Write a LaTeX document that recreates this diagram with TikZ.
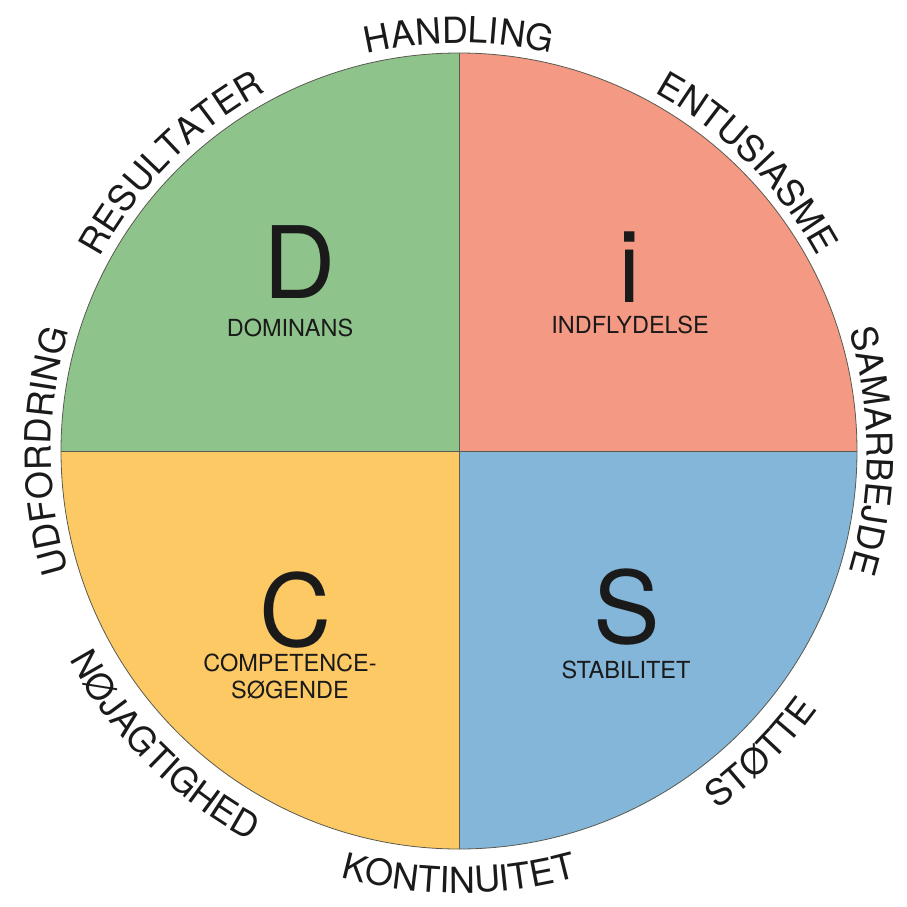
\documentclass[tikz,border=0pt]{standalone}
\usepackage{fontspec}
\setmainfont{TeX Gyre Heros}
\usetikzlibrary{decorations.text}

\definecolor{verdeD}{HTML}{8EC48B}
\definecolor{rossoI}{HTML}{F49983}
\definecolor{gialloC}{HTML}{FCC965}
\definecolor{bluS}{HTML}{83B6D8}
\definecolor{bordo}{HTML}{5A5A50}
\definecolor{testo}{HTML}{1A1A1A}

\newcommand{\lettera}{\fontsize{100}{100}\selectfont}
\newcommand{\sottotitolo}{\fontsize{23.5}{27}\selectfont}
\newcommand{\etichetta}{\fontsize{36}{40}\selectfont}

\begin{document}
\begin{tikzpicture}[x=1pt,y=1pt,
    lettera/.style={anchor=base, inner sep=0pt, text=testo, font=\lettera},
    sotto/.style={anchor=base, inner sep=0pt, text=testo, font=\sottotitolo, align=center},
    divisore/.style={bordo, line width=0.8pt}]

    \useasboundingbox (-459,-455) rectangle (448,451);

    % Quadranti
    \foreach \a/\col in {90/verdeD, 0/rossoI, 270/bluS, 180/gialloC} {
        \fill[\col] (0,0) -- (\a:398) arc[start angle=\a, delta angle=90, radius=398] -- cycle;
    }

    % Bordo e divisori
    \coordinate (centro) at (0,0);
    \coordinate (nord) at (90:398);
    \coordinate (sud) at (270:398);
    \coordinate (est) at (0:398);
    \coordinate (ovest) at (180:398);
    \draw[divisore] (ovest) -- (est);
    \draw[divisore] (sud) -- (nord);
    \draw[divisore] (centro) circle[radius=398];

    % Lettere DiSC
    \node[lettera] (D) at (-159,153) {D};
    \node[lettera] (i) at (171,149) {i};
    \node[lettera] (C) at (-163,-195) {C};
    \node[lettera] (S) at (168,-192) {S};

    % Sottotitoli
    \node[sotto] (dominans) at (-169,115) {DOMINANS};
    \node[sotto] (indflydelse) at (171,118) {INDFLYDELSE};
    \node[sotto, anchor=north] (competence) at (-169,-203) {COMPETENCE-\\SØGENDE};
    \node[sotto] (stabilitet) at (167,-227) {STABILITET};

    % Etichette esterne, in alto (senso orario)
    \foreach \ang/\parola in {90/HANDLING, 45/ENTUSIASME, 0/SAMARBEJDE, 135/RESULTATER, 180/UDFORDRING} {
        \path[decorate, decoration={text along path, text align=center,
            text color=testo, text/.expanded={|\noexpand\etichetta|\parola}}]
            (\ang+90:408) arc[start angle=\ang+90, end angle=\ang-90, radius=408];
    }

    % Etichette esterne, in basso (senso antiorario)
    \foreach \ang/\parola in {225/NØJAGTIGHED, 270/KONTINUITET, 315/STØTTE} {
        \path[decorate, decoration={text along path, text align=center,
            text color=testo, text/.expanded={|\noexpand\etichetta|\parola}}]
            (\ang-90:442) arc[start angle=\ang-90, end angle=\ang+90, radius=442];
    }

\end{tikzpicture}
\end{document}
